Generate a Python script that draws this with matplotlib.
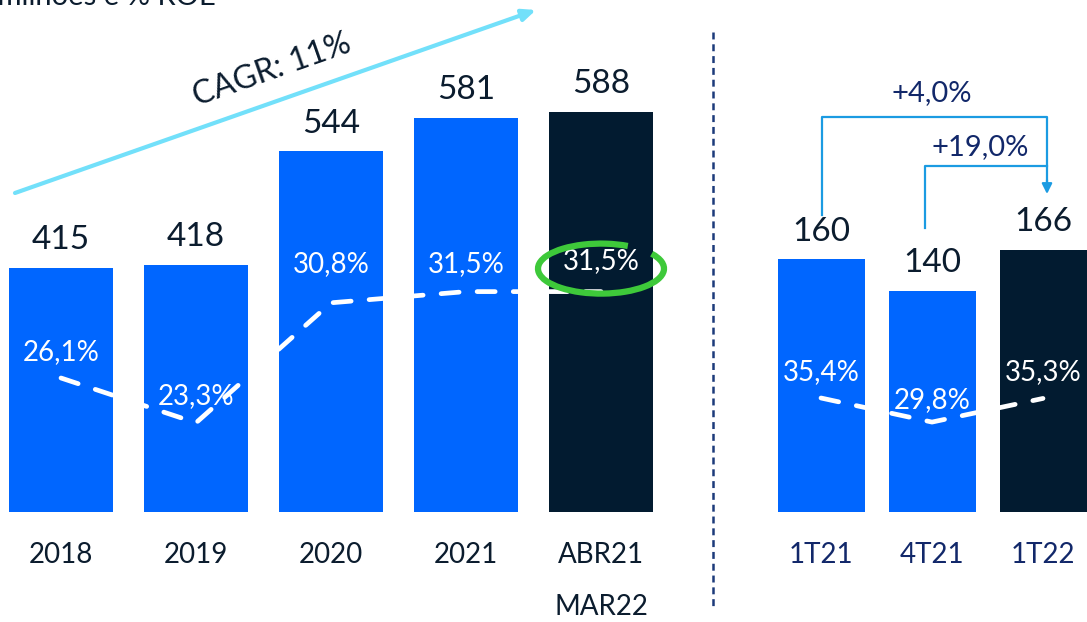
import matplotlib
matplotlib.use("Agg")
import matplotlib.pyplot as plt
from matplotlib.patches import Arc
import numpy as np

plt.rcParams['font.family'] = ['Lato', 'DejaVu Sans']
plt.rcParams['lines.scale_dashes'] = False

# ---- data ----
years = ["2018", "2019", "2020", "2021", "ABR21\nMAR22"]
year_values = [415, 418, 544, 581, 588]
year_roe = [26.1, 23.3, 30.8, 31.5, 31.5]
year_roe_labels = ["26,1%", "23,3%", "30,8%", "31,5%", "31,5%"]

quarters = ["1T21", "4T21", "1T22"]
quarter_values = [160, 140, 166]
quarter_roe = [35.4, 29.8, 35.3]
quarter_roe_labels = ["35,4%", "29,8%", "35,3%"]

growth_labels = ["+4,0%", "+19,0%"]
cagr_label = "CAGR: 11%"
title_text = "R$ milhões e % ROE"

BLUE = "#0066FF"
NAVY = "#021B30"
TXT = "#0B1C2E"
QTXT = "#12286A"
CYAN = "#72E0FA"
BRACKET = "#1B9BE2"
GREEN = "#3EC93A"

W, H = 1087, 622
fig = plt.figure(figsize=(W / 100, H / 100), dpi=100)

def px_axes(x0, x1, ytop, ybot):
    return fig.add_axes([x0 / W, 1 - ybot / H, (x1 - x0) / W, (ybot - ytop) / H])

# ---- left (annual) ----
axL = px_axes(0, 700, 0, 512)
step = 135.0
axL.set_xlim(-61 / step, (700 - 61) / step)
axL.set_ylim(144, 144 + 512 / 0.902)
xL = np.arange(len(years))
colsL = [BLUE] * 4 + [NAVY]
axL.bar(xL, year_values, width=104 / step, color=colsL, zorder=2)
for x, v in zip(xL, year_values):
    axL.annotate(str(v), (x, v), xytext=(0, 9), textcoords="offset points",
                 ha="center", va="bottom", fontsize=24, color=TXT)
axL.axis("off")

axL2 = axL.twinx()
axL2.set_position(axL.get_position())
axL2.set_ylim(26.1 - 134 / 16.0, 26.1 + (512 - 134) / 16.0)
axL2.plot(xL, year_roe, color="white", lw=3.4, dashes=(13, 13),
          dash_capstyle="round", zorder=3)
roe_label_offsets = [19, 19, 28, 20, 22]
for x, v, lab, off in zip(xL, year_roe, year_roe_labels, roe_label_offsets):
    axL2.annotate(lab, (x, v), xytext=(0, off), textcoords="offset points",
                  ha="center", va="center", fontsize=20, color="white", zorder=4)
axL2.axis("off")

# green circle around last ROE label
arc = Arc((4, 31.5 + 23 / 16.0), width=126 / step, height=50 / 16.0,
          theta1=82, theta2=428, color=GREEN, lw=4.5, zorder=5,
          transform=axL2.transData)
axL2.add_patch(arc)

# x labels
for x, lab in zip(xL, years):
    lines = lab.split("\n")
    for i, ln in enumerate(lines):
        axL.text(x, -(555 - 512) / 512 - i * 52 / 512, ln, transform=axL.get_xaxis_transform(),
                 ha="center", va="center", fontsize=20, color=TXT)

# overlay axes in pixel space
fig_ax = fig.add_axes([0, 0, 1, 1], facecolor="none")
fig_ax.set_xlim(0, W)
fig_ax.set_ylim(H, 0)
fig_ax.axis("off")

# CAGR arrow
fig_ax.annotate("", xy=(536, 10), xytext=(15, 193),
                arrowprops=dict(arrowstyle="-|>,head_length=0.8,head_width=0.35",
                                color=CYAN, lw=3, shrinkA=0, shrinkB=0))
ang = np.degrees(np.arctan2(183, 521))
fig_ax.text(272, 70, cagr_label, rotation=ang, ha="center", va="center",
            fontsize=23, color=TXT, rotation_mode="anchor")

# separator
fig_ax.plot([713, 713], [32, 606], color="#1C3A7A", lw=1.8, dashes=(5, 3.5))

# partial title at top (cut off as in the source image)
fig_ax.text(216, 5, title_text, ha="right", va="baseline", fontsize=21, color=TXT)

# ---- right (quarterly) ----
axR = px_axes(730, 1087, 0, 512)
stepR = 111.0
axR.set_xlim(-(821 - 730) / stepR, (1087 - 821) / stepR)
axR.set_ylim(0, 512 / 1.58)
xR = np.arange(len(quarters))
colsR = [BLUE, BLUE, NAVY]
axR.bar(xR, quarter_values, width=87 / stepR, color=colsR, zorder=2)
for x, v in zip(xR, quarter_values):
    axR.annotate(str(v), (x, v), xytext=(0, 9), textcoords="offset points",
                 ha="center", va="bottom", fontsize=24, color=TXT)
axR.axis("off")
for x, lab in zip(xR, quarters):
    axR.text(x, -(555 - 512) / 512, lab, transform=axR.get_xaxis_transform(),
             ha="center", va="center", fontsize=20, color=QTXT)

axR2 = axR.twinx()
axR2.set_position(axR.get_position())
axR2.set_ylim(35.4 - 114 / 4.3, 35.4 + (512 - 114) / 4.3)
axR2.plot(xR, quarter_roe, color="white", lw=3.4, dashes=(13, 13),
          dash_capstyle="round", zorder=3)
q_offsets = [19, 16, 19]
for x, v, lab, off in zip(xR, quarter_roe, quarter_roe_labels, q_offsets):
    axR2.annotate(lab, (x, v), xytext=(0, off), textcoords="offset points",
                  ha="center", va="center", fontsize=20, color="white", zorder=4)
axR2.axis("off")

# growth brackets
fig_ax.plot([822, 822, 1047, 1047], [215, 117, 117, 185], color=BRACKET, lw=1.6)
fig_ax.plot([925, 925, 1047], [228, 166, 166], color=BRACKET, lw=1.6)
fig_ax.annotate("", xy=(1047, 194), xytext=(1047, 180),
                arrowprops=dict(arrowstyle="-|>,head_length=0.6,head_width=0.3",
                                color=BRACKET, lw=1.6, shrinkA=0, shrinkB=0))
fig_ax.text(932, 93, growth_labels[0], ha="center", va="center", fontsize=21, color=QTXT)
fig_ax.text(980, 147, growth_labels[1], ha="center", va="center", fontsize=21, color=QTXT)

fig.savefig("out.png", dpi=100)
